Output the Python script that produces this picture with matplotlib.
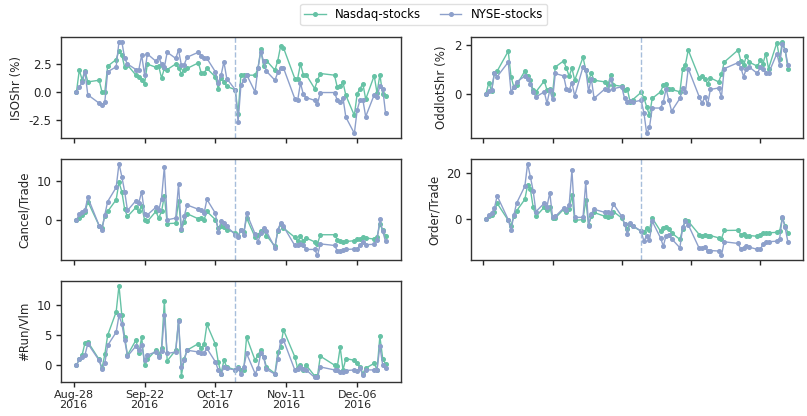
import pandas as pd
import matplotlib
matplotlib.use("Agg")
import matplotlib.pyplot as plt
import matplotlib.dates as mdates

# trading days shown (a few market/bond holidays are missing in the data)
dates = pd.bdate_range("2016-08-29", "2016-12-16").drop(pd.to_datetime(
    ["2016-09-05", "2016-10-10", "2016-11-11", "2016-11-24", "2016-11-25"]))
event_date = pd.Timestamp("2016-10-24")
tick_dates = pd.to_datetime(["2016-08-28", "2016-09-22", "2016-10-17",
                             "2016-11-11", "2016-12-06"])

iso_nasdaq = [0.0, 1.95, 1.1, 1.9, 0.9,
              1.05, 0.0, 0.0, 2.3,
              2.9, 3.7, 3.3, 2.2, 2.4,
              1.5, 1.35, 1.1, 0.7, 2.5,
              2.2, 2.3, 1.25, 2.1, 2.0,
              2.5, 2.15, 1.65, 2.0, 2.1,
              2.6, 1.7, 1.7, 2.1,
              1.35, 0.3, 1.25, 0.9, 0.5,
              0.2, -1.95, 1.55, 1.5, 1.5,
              1.5, 2.1, 3.8, 2.3, 2.8,
              1.95, 2.8, 4.1, 3.95,
              1.2, 1.2, 2.5, 1.55, 1.55,
              0.3, 1.05, 1.65,
              1.5, 0.4, 0.55, 0.85, -0.3,
              -2.1, -0.15, 0.3, 0.75, -0.65,
              1.45, -0.1, 1.55, -0.2, -0.4]
iso_nyse = [0.0, 0.4, 0.9, 1.8, -0.25,
            -1.0, -1.15, -0.9, 1.8,
            2.25, 4.5, 4.5, 3.0, 2.5,
            2.0, 2.0, 3.3, 1.55, 3.4,
            2.75, 3.1, 2.5, 2.2, 3.55,
            3.0, 3.75, 2.4, 2.45, 3.1,
            3.55, 3.25, 3.0, 3.0,
            1.8, 0.8, 1.5, 2.7, 1.2,
            0.2, -2.7, 0.6, 1.05, 1.55,
            0.0, 2.1, 3.6, 2.75, 1.85,
            1.05, 1.75, 2.1, 2.15,
            -0.6, -0.75, 0.8, -0.2, -0.5,
            -0.75, -1.05, -0.05,
            -0.05, -0.75, -0.9, -0.55, -2.25,
            -3.7, -1.6, -0.7, -0.7, -2.2,
            -0.25, -0.45, 0.55, 0.3, -1.9]

odd_nasdaq = [0.0, 0.45, 0.1, 0.87, 0.93,
              1.75, 0.7, 0.28, 0.35,
              0.93, 0.73, 0.55, 0.14, 0.07,
              0.52, 0.15, 0.2, 0.0, 1.1,
              1.35, 1.05, 0.72, 1.05, 0.55,
              1.5, 0.97, 0.55, 0.83, 0.55,
              0.48, 0.35, 0.76, 0.35,
              0.3, 0.15, 0.2, -0.35, -0.25,
              0.05, -0.18, -0.55, -0.9, -0.2,
              0.07, 0.35, 0.38, 0.2, 0.17,
              0.07, 1.03, 1.2, 1.8,
              0.65, 0.73, 0.62, 0.4, 0.65,
              0.48, 0.8, 1.3,
              1.8, 1.35, 1.17, 1.55, 1.3,
              1.13, 1.38, 1.24, 1.65, 1.03,
              2.1, 1.45, 2.15, 1.8, 1.03]
odd_nyse = [-0.03, 0.1, 0.14, 0.85, 0.7,
            1.3, 0.07, 0.25, 0.48,
            0.72, 0.62, 0.4, 0.07, -0.14,
            0.07, -0.4, 0.14, -0.24, 0.83,
            0.73, 0.2, 0.14, 0.45, -0.1,
            1.1, 0.97, 0.1, 0.62, -0.2,
            0.2, 0.14, 0.62, 0.2,
            0.28, -0.2, -0.35, -0.3, -0.35,
            -0.28, -0.8, -1.65, -1.4, -0.6,
            -0.6, -0.35, 0.2, -0.28, -0.73,
            -0.2, 0.23, 0.07, 1.03,
            -0.14, -0.4, -0.14, -0.45, 0.17,
            0.23, -0.14, 1.03,
            1.28, 1.06, 0.7, 1.03, 1.1,
            0.83, 1.1, 1.03, 0.87, 0.83,
            1.65, 1.2, 2.03, 1.8, 1.2]

cancel_nasdaq = [0.0, 0.6, 1.25, 2.0, 4.75,
                 -1.3, -1.9, 1.2, 2.25,
                 5.2, 9.6, 7.25, 2.8, 1.0,
                 3.3, 2.25, 3.7, 0.2, -0.25,
                 2.25, 0.6, 2.25, 6.2, -0.8,
                 -0.7, 5.0, -2.3, -0.5, 1.7,
                 0.4, 0.6, 0.2, 2.25,
                 0.2, -1.9, -1.5, -1.7, -2.3,
                 -3.1, -3.8, -2.5, -3.0, 0.6,
                 -4.2, -3.6, -2.75, -2.5, -3.8,
                 -6.5, -2.75, -0.8, -1.9,
                 -4.25, -5.25, -4.0, -5.1, -4.4,
                 -5.4, -5.9, -3.6,
                 -3.6, -4.8, -5.25, -5.5, -5.3,
                 -5.1, -4.7, -4.7, -4.2, -4.4,
                 -4.7, -4.2, -0.9, -2.5, -3.8]
cancel_nyse = [0.0, 1.7, 2.0, 2.5, 5.8,
               -1.3, -2.3, 1.4, 4.75,
               8.3, 14.3, 11.0, 7.25, 2.5,
               5.0, 4.5, 7.25, 1.7, 1.4,
               3.3, 2.5, 5.5, 13.5, 0.15,
               0.6, 9.1, -2.2, 1.0, 3.9,
               2.8, 2.5, 1.8, 5.3,
               1.8, -3.0, -0.25, -0.7, -1.5,
               -3.6, -4.2, -2.3, -3.6, 1.8,
               -3.4, -5.5, -3.1, -1.9, -2.75,
               -6.9, -2.3, -0.7, -1.5,
               -6.3, -6.3, -5.9, -6.1, -7.3,
               -7.3, -8.8, -5.9,
               -6.3, -7.6, -7.7, -7.5, -7.3,
               -7.2, -7.3, -6.1, -5.5, -6.1,
               -6.0, -5.0, 0.3, -2.7, -5.3]

order_nasdaq = [0.0, 1.0, 1.7, 3.1, 6.7,
                -0.7, -3.0, 1.0, 3.4,
                8.4, 14.6, 12.7, 5.0, 1.0,
                5.0, 3.6, 5.3, 0.3, 0.3,
                4.1, 2.7, 4.1, 10.3, -0.7,
                -0.4, 8.1, -2.6, 1.0, 2.7,
                1.0, 0.7, 1.3, 3.1,
                0.3, -2.1, -4.4, -2.1, -3.3,
                -5.4, -5.9, -4.0, -4.7, 0.3,
                -5.4, -4.0, -3.6, -4.4, -6.1,
                -9.0, -4.4, -0.4, -1.1,
                -6.9, -7.3, -6.9, -7.6, -7.3,
                -8.3, -8.7, -5.1,
                -5.0, -6.9, -6.6, -7.3, -7.3,
                -7.6, -6.9, -6.1, -6.1, -6.1,
                -5.9, -5.4, 0.3, -3.0, -6.1]
order_nyse = [0.0, 1.4, 2.4, 4.6, 9.9,
              -0.4, -5.0, 1.4, 6.7,
              14.1, 23.9, 18.1, 12.1, 3.1,
              6.7, 5.3, 11.3, 0.7, 1.0,
              4.6, 3.9, 6.0, 21.0, 0.6,
              0.6, 16.0, -3.0, 2.1, 4.1,
              2.7, 3.1, 2.4, 6.4,
              1.0, -2.1, -6.6, -1.9, -3.0,
              -5.4, -9.7, -7.3, -9.3, -1.1,
              -8.3, -11.9, -7.3, -6.9, -8.7,
              -12.6, -3.6, -0.9, -2.6,
              -12.9, -12.9, -12.3, -14.0, -13.8,
              -14.0, -15.9, -10.0,
              -10.7, -13.3, -12.6, -11.9, -12.3,
              -13.3, -13.3, -11.1, -10.0, -10.0,
              -9.7, -8.7, 0.6, -3.8, -10.1]

run_nasdaq = [0.0, 0.95, 1.7, 3.7, 3.9,
              0.95, -0.55, 1.8, 5.0,
              8.9, 13.3, 8.3, 4.7, 1.7,
              4.2, 1.95, 4.7, 0.0, 0.95,
              2.5, 1.7, 2.8, 10.7, 0.7,
              2.5, 7.5, -1.8, 1.1, 2.5,
              3.6, 2.8, 3.5, 6.8,
              3.5, 0.55, -1.4, 0.8, -0.3,
              -0.8, -0.3, -0.8, -0.8, 4.7,
              0.8, 1.7, 2.5, 1.4, -0.3,
              -1.4, 2.2, 3.0, 5.9,
              1.4, -0.55, 0.0, -0.8, 0.0,
              -1.8, -1.8, 1.5,
              0.0, -0.2, 3.0, -0.8, 1.1,
              0.8, 0.3, -0.3, -1.4, -0.5,
              0.3, -0.8, 4.8, 1.1, 0.2]
run_nyse = [0.0, 0.95, 1.3, 1.7, 3.6,
            0.8, -0.7, 0.3, 3.3,
            5.5, 8.3, 6.9, 4.2, 1.5,
            3.2, 2.5, 3.3, 0.8, 1.7,
            2.2, 1.4, 2.4, 8.3, 1.95,
            2.2, 7.4, -0.3, 0.8, 2.5,
            2.2, 2.05, 2.05, 2.8,
            0.55, -0.8, -1.5, -0.3, -0.55,
            -0.8, -0.55, -1.5, -0.3, 1.95,
            -1.4, -0.55, 2.05, 1.3, -0.7,
            -1.5, 1.1, 4.0, 4.2,
            -0.8, -0.7, -0.3, -0.7, -0.8,
            -2.05, -2.05, -0.3,
            -0.8, -0.8, -1.1, -1.1, -0.9,
            -0.8, -0.9, -0.55, -1.65, -0.8,
            -0.8, -0.8, 3.2, 0.0, -0.55]

panels = [
    ("ISOShr (%)", iso_nasdaq, iso_nyse, [-2.5, 0.0, 2.5], "{:.1f}"),
    ("OddlotShr (%)", odd_nasdaq, odd_nyse, [0, 2], "{:.0f}"),
    ("Cancel/Trade", cancel_nasdaq, cancel_nyse, [0, 10], "{:.0f}"),
    ("Order/Trade", order_nasdaq, order_nyse, [0, 20], "{:.0f}"),
    ("#Run/Vlm", run_nasdaq, run_nyse, [0, 5, 10], "{:.0f}"),
]

c_nasdaq = "#66c2a5"
c_nyse = "#8da0cb"

fig = plt.figure(figsize=(8.07, 4.16), dpi=100)
W, H = 807, 416
boxes = [(61, 37, 340), (471, 37, 332),
         (61, 159, 340), (471, 159, 332),
         (61, 281, 340)]
axes = []
for (x0, y0, w) in boxes:
    ax = fig.add_axes([x0 / W, 1 - (y0 + 101) / H, w / W, 101 / H],
                      sharex=axes[0] if axes else None)
    axes.append(ax)

for i, (ax, (label, nas, nyse, yt, fmt)) in enumerate(zip(axes, panels)):
    ax.plot(dates, nas, color=c_nasdaq, lw=1, marker="o", ms=2.6,
            label="Nasdaq-stocks")
    ax.plot(dates, nyse, color=c_nyse, lw=1, marker="o", ms=2.6,
            label="NYSE-stocks")
    ax.axvline(event_date, color="#a6bddb", ls="--", lw=1)
    ax.set_ylabel(label, fontsize=8.5, color="0.15")
    ax.set_yticks(yt)
    ax.set_yticklabels([fmt.format(v) for v in yt])
    ax.tick_params(labelsize=8.5, colors="0.15", width=1, length=3.5)
    ax.tick_params(axis="x", pad=2)
    for sp in ax.spines.values():
        sp.set_color("0.2")
        sp.set_linewidth(1.0)
    ax.set_xticks(tick_dates)
    ax.xaxis.set_major_formatter(mdates.DateFormatter("%b-%d\n%Y"))
    if i != 4:
        ax.tick_params(labelbottom=False)

for t in axes[4].get_xticklabels():
    t.set_fontsize(8)
    t.set_linespacing(1.0)

handles, labels = axes[0].get_legend_handles_labels()
fig.legend(handles, labels, loc="upper center", ncol=2, fontsize=8.5,
           bbox_to_anchor=(0.525, 1.005), frameon=True, edgecolor="0.85",
           handlelength=1.8, columnspacing=1.6, borderpad=0.35)

fig.savefig("out.png", dpi=100)
